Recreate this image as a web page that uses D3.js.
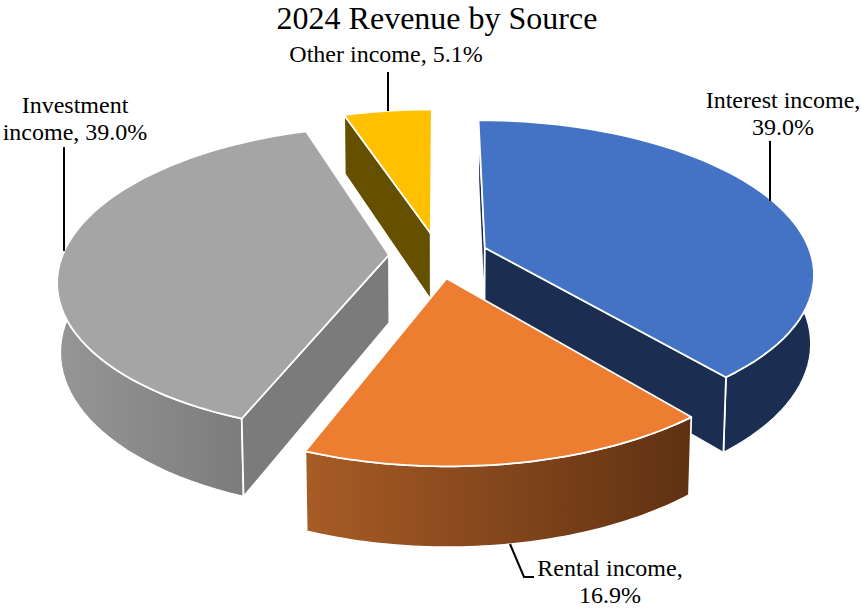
<!DOCTYPE html>
<html>
<head>
<meta charset="utf-8">
<script src="https://cdn.jsdelivr.net/npm/d3@7"></script>
<style>
  html, body { margin: 0; padding: 0; background: #fff; }
  svg { display: block; }
  text { font-family: "Liberation Serif", serif; fill: #000; }
</style>
</head>
<body>
<svg id="chart" width="862" height="608"></svg>
<script>
// chart values
const categories = ['Interest income', 'Rental income', 'Investment income', 'Other income'];
const shares = [39.0, 16.9, 39.0, 5.1];
const topColors = ['#4472c4', '#ed7d31', '#a5a5a5', '#ffc000'];
const sideColors = ['#1b2e51', '#5f3112', '#7b7b7b', '#655000'];
const rimGradients = [null, ['#a85c26', '#5f3112'], ['#969696', '#737373'], null];
const drawOrder = [2, 0, 3, 1];

const labelLines = [
    ['Interest income,', '39.0%'],
    ['Rental income,', '16.9%'],
    ['Investment', 'income, 39.0%'],
    ['Other income, 5.1%']
];

const width = 862;
const height = 608;

// tilted pie, projected by hand: far side shrinks, bottom face sits a bit further away
const cx = 438.5, cy = 255.5;
const rx = 326.5, ry = 150, depth = 68.5;
const perspective = 0.158, depthPerspective = 0.008;
const explode = 0.152;

function project(x, y, z) {
    let w = 1 + perspective * y + depthPerspective * z;
    return [cx + rx * x / w, cy + (depth * z - ry * y) / w];
}

const svg = d3.select('#chart');
const defs = svg.append('defs');
const line = d3.line();

const arcs = d3.pie().sort(null).value(d => d)(shares);

function sliceGeometry(arc) {
    let mid = (arc.startAngle + arc.endAngle) / 2;
    let ox = explode * Math.sin(mid);
    let oy = explode * Math.cos(mid);
    let angles = d3.range(0, 61).map(i => arc.startAngle + (arc.endAngle - arc.startAngle) * i / 60);
    let rim = z => angles.map(a => project(ox + Math.sin(a), oy + Math.cos(a), z));
    let apex = z => project(ox, oy, z);
    return {rim, apex};
}

drawOrder.forEach(i => {
    let g = sliceGeometry(arcs[i]);
    let slice = svg.append('g').attr('class', 'slice');
    let rimTop = g.rim(0), rimBottom = g.rim(1);

    let rimFill = sideColors[i];
    if (rimGradients[i]) {
        let xs = d3.extent(rimTop.concat(rimBottom), p => p[0]);
        let grad = defs.append('linearGradient')
            .attr('id', 'rim' + i)
            .attr('gradientUnits', 'userSpaceOnUse')
            .attr('x1', xs[0]).attr('x2', xs[1])
            .attr('y1', 0).attr('y2', 0);
        grad.append('stop').attr('offset', 0).attr('stop-color', rimGradients[i][0]);
        grad.append('stop').attr('offset', 1).attr('stop-color', rimGradients[i][1]);
        rimFill = 'url(#rim' + i + ')';
    }

    let face = (pts, fill) => slice.append('path')
        .attr('d', line(pts) + 'Z')
        .attr('fill', fill)
        .attr('stroke', '#fff')
        .attr('stroke-width', 1.75)
        .attr('stroke-linejoin', 'round');

    // round wall first, then the cut faces that look at the camera, then the top
    face(rimTop.concat(rimBottom.slice().reverse()), rimFill);
    let startWall = [rimTop[0], g.apex(0), g.apex(1), rimBottom[0]];
    let endWall = [rimTop[60], g.apex(0), g.apex(1), rimBottom[60]];
    if (d3.polygonArea(startWall) < 0) face(startWall, sideColors[i]);
    if (d3.polygonArea(endWall) > 0) face(endWall, sideColors[i]);
    face([g.apex(0)].concat(rimTop), topColors[i]);
});

// leader lines
const leaderLines = [
    [[770, 141], [770, 201]],
    [[510, 544], [524, 577], [534, 577]],
    [[64, 147], [64, 251]],
    [[388, 72], [388, 111]]
];
svg.selectAll('.leader')
    .data(leaderLines)
    .enter().append('path')
    .attr('class', 'leader')
    .attr('d', d => line(d))
    .attr('fill', 'none')
    .attr('stroke', '#000')
    .attr('stroke-width', 2);

svg.append('text')
    .attr('x', 437)
    .attr('y', 29)
    .attr('text-anchor', 'middle')
    .style('font-size', '32px')
    .text('2024 Revenue by Source');

const labelPos = [[783, 108], [610, 575.5], [75, 113], [386, 62]];
svg.selectAll('.label')
    .data(categories)
    .enter().append('text')
    .attr('class', 'label')
    .attr('text-anchor', 'middle')
    .style('font-size', '24px')
    .each(function(d, i) {
        d3.select(this).selectAll('tspan')
            .data(labelLines[i])
            .enter().append('tspan')
            .attr('x', labelPos[i][0])
            .attr('y', (t, j) => labelPos[i][1] + j * 27)
            .text(t => t);
    });
</script>
</body>
</html>
